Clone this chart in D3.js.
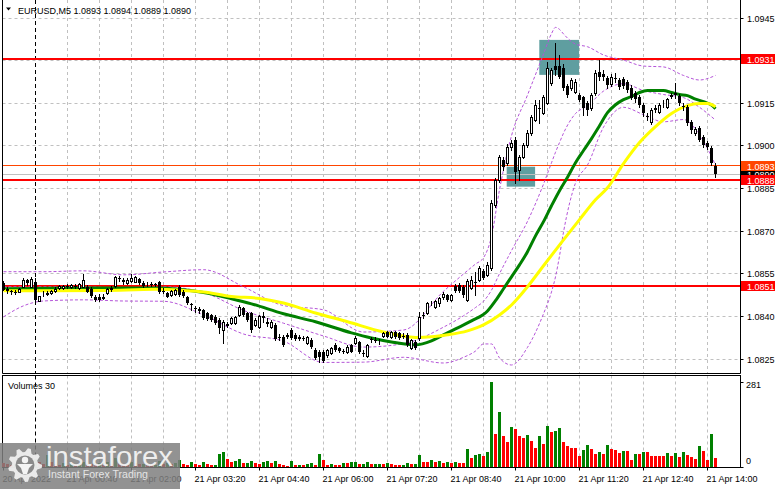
<!DOCTYPE html>
<html>
<head>
<meta charset="utf-8">
<title>EURUSD M5</title>
<script src="https://cdn.jsdelivr.net/npm/d3@7/dist/d3.min.js"></script>
<style>
  body { margin: 0; background: #ffffff; }
  svg { display: block; font-family: "Liberation Sans", Arial, sans-serif; }
</style>
</head>
<body>
<svg id="chart" width="781" height="489"></svg>
<script>
// ---- values ----
var symbol = "EURUSD";
var timeframe = "M5";

// one candle every 5 minutes, bar 0 = 20 Apr 23:20
var barOpen = [
  1.08518,1.08496,1.08489,1.08486,1.08487,1.08504,1.08528,1.08504,1.08521,1.08455,
  1.08479,1.08480,1.08482,1.08489,1.08500,1.08500,1.08507,1.08503,1.08509,1.08500,
  1.08505,1.08505,1.08496,1.08469,1.08468,1.08465,1.08482,1.08496,1.08507,1.08535,
  1.08528,1.08517,1.08524,1.08522,1.08531,1.08518,1.08514,1.08516,1.08514,1.08521,
  1.08489,1.08482,1.08476,1.08479,1.08503,1.08486,1.08468,1.08443,1.08429,1.08426,
  1.08422,1.08412,1.08405,1.08398,1.08387,1.08352,1.08373,1.08377,1.08377,1.08405,
  1.08429,1.08412,1.08412,1.08370,1.08362,1.08401,1.08380,1.08362,1.08370,1.08327,
  1.08327,1.08331,1.08352,1.08334,1.08327,1.08324,1.08306,1.08317,1.08282,1.08275,
  1.08275,1.08264,1.08271,1.08299,1.08289,1.08278,1.08275,1.08299,1.08306,1.08310,
  1.08271,1.08260,1.08320,1.08317,1.08310,1.08331,1.08345,1.08327,1.08345,1.08341,
  1.08331,1.08334,1.08289,1.08310,1.08324,1.08405,1.08412,1.08444,1.08433,1.08447,
  1.08468,1.08475,1.08458,1.08507,1.08510,1.08503,1.08458,1.08500,1.08521,1.08528,
  1.08560,1.08546,1.08570,1.08791,1.08879,1.08950,1.08940,1.08996,1.09021,1.08915,
  1.08961,1.09003,1.09045,1.09091,1.09133,1.09116,1.09151,1.09221,1.09281,1.09281,
  1.09274,1.09210,1.09204,1.09190,1.09179,1.09172,1.09151,1.09133,1.09186,1.09260,
  1.09253,1.09239,1.09218,1.09239,1.09232,1.09235,1.09225,1.09204,1.09186,1.09172,
  1.09144,1.09105,1.09084,1.09130,1.09119,1.09147,1.09137,1.09176,1.09183,1.09176,
  1.09140,1.09137,1.09084,1.09045,1.09063,1.09032,1.09010,1.08993,1.08930
];
var barHigh = [
  1.08524,1.08503,1.08493,1.08493,1.08500,1.08535,1.08531,1.08538,1.08535,1.08473,
  1.08489,1.08489,1.08493,1.08503,1.08510,1.08510,1.08514,1.08514,1.08514,1.08517,
  1.08549,1.08510,1.08503,1.08475,1.08479,1.08479,1.08500,1.08507,1.08542,1.08542,
  1.08535,1.08535,1.08551,1.08542,1.08535,1.08524,1.08521,1.08521,1.08517,1.08524,
  1.08500,1.08486,1.08493,1.08496,1.08510,1.08493,1.08472,1.08447,1.08436,1.08433,
  1.08426,1.08415,1.08408,1.08405,1.08394,1.08387,1.08380,1.08398,1.08401,1.08440,
  1.08433,1.08415,1.08415,1.08394,1.08405,1.08415,1.08394,1.08387,1.08377,1.08338,
  1.08334,1.08341,1.08359,1.08341,1.08334,1.08331,1.08331,1.08324,1.08289,1.08282,
  1.08282,1.08285,1.08292,1.08306,1.08292,1.08285,1.08299,1.08303,1.08331,1.08313,
  1.08282,1.08303,1.08327,1.08327,1.08320,1.08345,1.08348,1.08348,1.08348,1.08345,
  1.08341,1.08341,1.08320,1.08317,1.08415,1.08415,1.08451,1.08454,1.08458,1.08468,
  1.08486,1.08479,1.08479,1.08514,1.08517,1.08510,1.08531,1.08542,1.08556,1.08577,
  1.08567,1.08591,1.08809,1.08886,1.08968,1.08961,1.09007,1.09021,1.09032,1.08968,
  1.09010,1.09056,1.09109,1.09161,1.09161,1.09179,1.09295,1.09274,1.09362,1.09321,
  1.09288,1.09218,1.09239,1.09235,1.09186,1.09176,1.09158,1.09186,1.09267,1.09302,
  1.09267,1.09246,1.09253,1.09257,1.09239,1.09242,1.09232,1.09214,1.09193,1.09179,
  1.09151,1.09116,1.09133,1.09144,1.09151,1.09161,1.09168,1.09186,1.09221,1.09183,
  1.09151,1.09144,1.09091,1.09066,1.09070,1.09038,1.09017,1.09000,1.08940
];
var barLow = [
  1.08493,1.08482,1.08479,1.08479,1.08486,1.08503,1.08510,1.08503,1.08447,1.08454,
  1.08472,1.08475,1.08479,1.08486,1.08496,1.08498,1.08500,1.08500,1.08500,1.08498,
  1.08503,1.08486,1.08468,1.08454,1.08454,1.08461,1.08479,1.08489,1.08503,1.08524,
  1.08514,1.08514,1.08521,1.08521,1.08514,1.08503,1.08507,1.08507,1.08507,1.08482,
  1.08482,1.08468,1.08472,1.08475,1.08472,1.08468,1.08443,1.08422,1.08415,1.08412,
  1.08391,1.08387,1.08384,1.08373,1.08341,1.08307,1.08362,1.08373,1.08373,1.08401,
  1.08401,1.08384,1.08345,1.08366,1.08359,1.08380,1.08366,1.08359,1.08317,1.08317,
  1.08296,1.08324,1.08320,1.08317,1.08317,1.08317,1.08303,1.08289,1.08250,1.08240,
  1.08240,1.08257,1.08268,1.08278,1.08275,1.08271,1.08271,1.08275,1.08303,1.08271,
  1.08260,1.08257,1.08310,1.08310,1.08303,1.08327,1.08327,1.08324,1.08324,1.08320,
  1.08324,1.08296,1.08285,1.08285,1.08317,1.08394,1.08408,1.08440,1.08429,1.08436,
  1.08461,1.08454,1.08454,1.08486,1.08486,1.08468,1.08454,1.08496,1.08475,1.08524,
  1.08531,1.08542,1.08563,1.08784,1.08872,1.08914,1.08933,1.08985,1.08870,1.08880,
  1.08958,1.08996,1.09038,1.09088,1.09081,1.09112,1.09147,1.09214,1.09249,1.09239,
  1.09197,1.09172,1.09197,1.09186,1.09158,1.09109,1.09109,1.09126,1.09179,1.09232,
  1.09232,1.09204,1.09210,1.09225,1.09201,1.09204,1.09190,1.09165,1.09154,1.09137,
  1.09105,1.09091,1.09077,1.09119,1.09116,1.09137,1.09133,1.09168,1.09168,1.09144,
  1.09126,1.09074,1.09045,1.09038,1.09017,1.08996,1.08989,1.08933,1.08890
];
var barClose = [
  1.08495,1.08489,1.08486,1.08484,1.08498,1.08528,1.08517,1.08534,1.08458,1.08472,
  1.08480,1.08482,1.08489,1.08496,1.08507,1.08509,1.08505,1.08510,1.08507,1.08516,
  1.08528,1.08487,1.08472,1.08458,1.08458,1.08468,1.08496,1.08500,1.08540,1.08531,
  1.08521,1.08528,1.08535,1.08540,1.08517,1.08507,1.08516,1.08514,1.08512,1.08487,
  1.08487,1.08470,1.08490,1.08493,1.08475,1.08472,1.08447,1.08440,1.08426,1.08419,
  1.08394,1.08391,1.08387,1.08377,1.08359,1.08380,1.08366,1.08394,1.08398,1.08433,
  1.08405,1.08387,1.08352,1.08387,1.08401,1.08394,1.08373,1.08380,1.08320,1.08325,
  1.08299,1.08334,1.08324,1.08320,1.08320,1.08322,1.08327,1.08292,1.08254,1.08257,
  1.08243,1.08282,1.08289,1.08282,1.08278,1.08275,1.08292,1.08276,1.08324,1.08275,
  1.08269,1.08299,1.08319,1.08315,1.08310,1.08341,1.08329,1.08345,1.08327,1.08324,
  1.08329,1.08299,1.08317,1.08289,1.08398,1.08401,1.08447,1.08446,1.08454,1.08465,
  1.08479,1.08458,1.08475,1.08489,1.08489,1.08475,1.08524,1.08528,1.08519,1.08570,
  1.08535,1.08581,1.08798,1.08879,1.08961,1.08925,1.08996,1.09010,1.08908,1.08961,
  1.09003,1.09045,1.09102,1.09144,1.09131,1.09172,1.09274,1.09267,1.09267,1.09242,
  1.09204,1.09179,1.09232,1.09225,1.09161,1.09133,1.09126,1.09179,1.09257,1.09242,
  1.09242,1.09214,1.09242,1.09237,1.09207,1.09210,1.09197,1.09168,1.09165,1.09144,
  1.09116,1.09102,1.09126,1.09133,1.09144,1.09149,1.09165,1.09178,1.09186,1.09151,
  1.09137,1.09081,1.09056,1.09059,1.09021,1.09003,1.08996,1.08940,1.08900
];
var barVolume = [
  14,9,7,10,8,18,12,20,26,15, 11,40,16,9,8,12,7,10,6,9,
  18,14,11,9,12,8,15,10,30,12, 9,8,17,13,9,11,7,6,8,19,
  10,14,9,12,23,10,8,16,10,8, 16,10,5,8,43,50,26,18,21,26,
  12,14,21,14,11,16,20,12,21,11, 8,4,19,5,8,5,9,14,5,43,
  23,8,9,8,8,14,12,15,16,10, 11,15,9,10,11,10,12,10,8,5,
  8,14,9,11,40,17,15,24,17,21, 12,17,13,17,13,13,60,30,40,44,
  37,50,281,109,181,103,84,132,126,104, 96,106,86,63,103,77,136,116,119,129,
  83,70,63,63,37,57,72,61,44,50, 44,72,59,57,46,54,54,22,44,44,
  50,50,37,37,37,37,46,37,46,33, 50,39,33,28,70,52,24,109,30
];

// moving averages, sampled at bar indices
var smaFastBars = [0,12,25,38,44,50,57,62,70,78,87,92,97,103,107,110,113,117,121,123,
  125,127,129,131,133,135,137,139,141,143,145,147,149,151,153,155,157,159,161,163,
  165,167,169,171,173,175,177,178];
var smaFastValues = [1.08498,1.08500,1.08501,1.08501,1.08496,1.08485,1.08463,1.08445,1.08410,1.08382,
  1.08343,1.08325,1.08311,1.08301,1.08315,1.08336,1.08357,1.08385,1.08420,1.08456,
  1.08498,1.08540,1.08582,1.08628,1.08684,1.08734,1.08790,1.08843,1.08890,1.08941,
  1.08984,1.09026,1.09071,1.09117,1.09145,1.09163,1.09174,1.09188,1.09195,1.09195,
  1.09195,1.09188,1.09181,1.09177,1.09165,1.09156,1.09144,1.09131];
var smaSlowBars = [0,12,25,38,45,50,57,64,70,78,86,95,99,103,107,111,116,120,124,127,
  131,135,140,144,148,151,155,159,163,167,171,174,176,178];
var smaSlowValues = [1.08491,1.08491,1.08492,1.08496,1.08492,1.08487,1.08471,1.08464,1.08448,1.08413,
  1.08382,1.08346,1.08334,1.08327,1.08329,1.08336,1.08350,1.08371,1.08406,1.08441,
  1.08505,1.08579,1.08670,1.08741,1.08811,1.08853,1.08938,1.09012,1.09068,1.09114,
  1.09142,1.09149,1.09149,1.09138];

// bollinger bands, sampled at bar indices
var bandBars = [0,5,10,20,30,40,50,60,70,80,90,100,110,115,118,120,122,124,127,131,
  135,137,138,139,140,143,146,150,155,160,165,170,174,178];
var bandUpper = [1.08558,1.08558,1.08558,1.08561,1.08547,1.08557,1.08565,1.08505,1.08439,1.08424,
  1.08346,1.08353,1.08489,1.08550,1.08585,1.08607,1.08682,1.08846,1.09036,1.09179,
  1.09323,1.09395,1.09417,1.09410,1.09394,1.09358,1.09349,1.09320,1.09302,1.09281,
  1.09278,1.09248,1.09232,1.09248];
var bandMiddle = [1.08505,1.08505,1.08505,1.08505,1.08501,1.08505,1.08485,1.08422,1.08377,1.08332,
  1.08293,1.08305,1.08363,1.08403,1.08432,1.08454,1.08493,1.08551,1.08632,1.08735,
  1.08866,1.08941,1.08978,1.09012,1.09045,1.09114,1.09141,1.09193,1.09219,1.09195,
  1.09181,1.09170,1.09136,1.09091];
var bandLower = [1.08399,1.08438,1.08455,1.08459,1.08455,1.08454,1.08406,1.08339,1.08314,1.08239,
  1.08240,1.08257,1.08237,1.08257,1.08279,1.08304,1.08304,1.08255,1.08230,1.08292,
  1.08410,1.08487,1.08540,1.08613,1.08697,1.08870,1.08933,1.09066,1.09136,1.09110,
  1.09085,1.09093,1.09039,1.08933];

// axes
var priceTicks = [1.0945,1.0930,1.0915,1.0900,1.0885,1.0870,1.0855,1.0840,1.0825];
var timeTickBars = [0,16,32,48,64,80,96,112,128,144,160,176];
var timeLabels = ["20 Apr 2022","21 Apr 00:40","21 Apr 02:00","21 Apr 03:20","21 Apr 04:40",
  "21 Apr 06:00","21 Apr 07:20","21 Apr 08:40","21 Apr 10:00","21 Apr 11:20",
  "21 Apr 12:40","21 Apr 14:00"];
var daySeparatorBar = 8;
var volumeMax = 281;

// drawn objects
var levelLines = [1.09305, 1.0888, 1.08506];
var askPrice = 1.0893;
var bidPrice = 1.0890;
var zoneBars = [[133.95, 143.9], [125.8, 132.9]];
var zonePrices = [[1.09373, 1.09250], [1.08927, 1.08857]];

// ---- drawing ----
var svg = d3.select("#chart");

var frame = {left:2.5, right:740.5, bottom:373.5, volTop:375.5, volBottom:467.5};

var xScale = d3.scaleLinear().domain([0, 178]).range([3.5, 715.5]);
var yScale = d3.scaleLinear().domain([1.0825, 1.0945]).range([359.3, 18]);
var vScale = d3.scaleLinear().domain([0, volumeMax]).range([467, 382]);

var crisp = function(v) { return Math.round(v - 0.5) + 0.5; };

var grid = "#c0c0c0";
var upColor = "#008000";
var downColor = "#ff0000";

svg.append("rect").attr("width", 781).attr("height", 489).attr("fill", "#ffffff");

svg.append("defs").append("clipPath").attr("id", "mainClip")
  .append("rect")
  .attr("x", frame.left).attr("y", 0)
  .attr("width", frame.right - frame.left).attr("height", frame.bottom);

// horizontal grid
svg.append("g").selectAll("line")
  .data(priceTicks)
  .enter().append("line")
  .attr("x1", frame.left).attr("x2", frame.right)
  .attr("y1", function(p) { return crisp(yScale(p)); })
  .attr("y2", function(p) { return crisp(yScale(p)); })
  .attr("stroke", grid)
  .attr("stroke-dasharray", "3,3");

// vertical grid every 40 minutes, both panels
var gridBars = d3.range(daySeparatorBar + 8, 178, 8);
var vgrid = svg.append("g");
gridBars.forEach(function(b) {
  vgrid.append("line")
    .attr("x1", xScale(b)).attr("x2", xScale(b))
    .attr("y1", 0).attr("y2", frame.bottom)
    .attr("stroke", grid).attr("stroke-dasharray", "3,3");
  vgrid.append("line")
    .attr("x1", xScale(b)).attr("x2", xScale(b))
    .attr("y1", frame.volTop).attr("y2", frame.volBottom)
    .attr("stroke", grid).attr("stroke-dasharray", "3,3");
});

// day separator
[[0, frame.bottom], [frame.volTop, frame.volBottom]].forEach(function(span) {
  svg.append("line")
    .attr("x1", xScale(daySeparatorBar)).attr("x2", xScale(daySeparatorBar))
    .attr("y1", span[0]).attr("y2", span[1])
    .attr("stroke", "#000").attr("stroke-dasharray", "4,3");
});

var main = svg.append("g").attr("clip-path", "url(#mainClip)");

// teal zones
main.append("g").selectAll("rect")
  .data(d3.range(zoneBars.length))
  .enter().append("rect")
  .attr("x", function(i) { return xScale(zoneBars[i][0]); })
  .attr("width", function(i) { return xScale(zoneBars[i][1]) - xScale(zoneBars[i][0]); })
  .attr("y", function(i) { return yScale(zonePrices[i][0]); })
  .attr("height", function(i) { return yScale(zonePrices[i][1]) - yScale(zonePrices[i][0]); })
  .attr("fill", "#5f9ea0");

// bid / ask lines
main.append("line")
  .attr("x1", frame.left).attr("x2", frame.right)
  .attr("y1", crisp(yScale(bidPrice))).attr("y2", crisp(yScale(bidPrice)))
  .attr("stroke", "#c0c0c0");
main.append("line")
  .attr("x1", frame.left).attr("x2", frame.right)
  .attr("y1", crisp(yScale(askPrice))).attr("y2", crisp(yScale(askPrice)))
  .attr("stroke", "#ff4500");

// red levels
main.append("g").selectAll("line")
  .data(levelLines)
  .enter().append("line")
  .attr("x1", frame.left).attr("x2", frame.right)
  .attr("y1", function(p) { return Math.round(yScale(p)); })
  .attr("y2", function(p) { return Math.round(yScale(p)); })
  .attr("stroke", "#ff0000").attr("stroke-width", 2);

// bollinger bands
var sampled = function(bars, values) {
  return bars.map(function(b, i) { return [b, values[i]]; });
};
var curve = d3.line()
  .x(function(d) { return xScale(d[0]); })
  .y(function(d) { return yScale(d[1]); })
  .curve(d3.curveMonotoneX);

[bandUpper, bandMiddle, bandLower].forEach(function(band) {
  main.append("path")
    .attr("d", curve(sampled(bandBars, band)))
    .attr("fill", "none")
    .attr("stroke", "#b455d8")
    .attr("stroke-width", 1)
    .attr("stroke-dasharray", "3,2");
});

// moving averages
main.append("path")
  .attr("d", curve(sampled(smaFastBars, smaFastValues)))
  .attr("fill", "none").attr("stroke", "#008000").attr("stroke-width", 3);
main.append("path")
  .attr("d", curve(sampled(smaSlowBars, smaSlowValues)))
  .attr("fill", "none").attr("stroke", "#ffff00").attr("stroke-width", 3);

// candles
var candles = main.append("g").selectAll("g")
  .data(d3.range(barClose.length))
  .enter().append("g");

candles.append("line")
  .attr("x1", function(i) { return xScale(i); })
  .attr("x2", function(i) { return xScale(i); })
  .attr("y1", function(i) { return Math.round(yScale(barHigh[i])); })
  .attr("y2", function(i) { return Math.round(yScale(barLow[i])) + 1; })
  .attr("stroke", "#000");

candles.append("rect")
  .each(function(i) {
    var up = barClose[i] >= barOpen[i];
    var top = Math.round(yScale(Math.max(barOpen[i], barClose[i])));
    var bot = Math.round(yScale(Math.min(barOpen[i], barClose[i])));
    var r = d3.select(this);
    if (up) {
      r.attr("x", xScale(i) - 1).attr("width", 2)
       .attr("y", top + 0.5).attr("height", Math.max(bot - top, 0))
       .attr("fill", "#ffffff").attr("stroke", "#000");
    } else {
      r.attr("x", xScale(i) - 1.5).attr("width", 3)
       .attr("y", top).attr("height", Math.max(bot - top, 1))
       .attr("fill", "#000");
    }
  });

// frame lines
svg.append("path")
  .attr("d", "M" + frame.left + ",0V" + frame.bottom + "H" + frame.right + "V0")
  .attr("fill", "none").attr("stroke", "#000");
svg.append("rect")
  .attr("x", frame.left).attr("y", frame.volTop)
  .attr("width", frame.right - frame.left).attr("height", frame.volBottom - frame.volTop)
  .attr("fill", "none").attr("stroke", "#000");

// price axis
var axisText = svg.append("g").attr("font-size", "9px").attr("fill", "#000");
priceTicks.forEach(function(p) {
  var y = crisp(yScale(p));
  svg.append("line").attr("x1", frame.right).attr("x2", frame.right + 3)
    .attr("y1", y).attr("y2", y).attr("stroke", "#000");
  axisText.append("text").attr("x", 747).attr("y", y + 3.5).text(p.toFixed(4));
});

// price boxes
var priceBox = function(p, color) {
  var y = yScale(p);
  svg.append("rect").attr("x", 741).attr("y", Math.round(y) - 5)
    .attr("width", 34).attr("height", 10).attr("fill", color);
  svg.append("text").attr("x", 747).attr("y", Math.round(y) + 3.5)
    .attr("font-size", "9px").attr("fill", "#ffffff").text(p.toFixed(4));
};
priceBox(bidPrice, "#000000");
priceBox(askPrice, "#ff4500");
levelLines.forEach(function(p) { priceBox(p, "#ff0000"); });

// header
svg.append("path").attr("d", "M6,7.5L11,7.5L8.5,10.5Z").attr("fill", "#000");
svg.append("text").attr("x", 18).attr("y", 14).attr("font-size", "9px")
  .text(symbol + "," + timeframe + "  " +
    [barOpen, barHigh, barLow, barClose].map(function(a) {
      return a[a.length - 1].toFixed(4);
    }).join(" "));

// volumes
svg.append("g").selectAll("rect")
  .data(d3.range(barVolume.length))
  .enter().append("rect")
  .attr("x", function(i) { return xScale(i) - 1.5; })
  .attr("width", 3)
  .attr("y", function(i) { return Math.round(vScale(barVolume[i])); })
  .attr("height", function(i) { return 467 - Math.round(vScale(barVolume[i])); })
  .attr("fill", function(i) {
    return i > 0 && barVolume[i] > barVolume[i - 1] ? upColor : downColor;
  });

svg.append("text").attr("x", 8).attr("y", 389).attr("font-size", "9px")
  .text("Volumes " + barVolume[barVolume.length - 1]);

[volumeMax, 0].forEach(function(v) {
  var y = crisp(vScale(v));
  svg.append("line").attr("x1", frame.right).attr("x2", frame.right + 3)
    .attr("y1", y).attr("y2", y).attr("stroke", "#000");
  axisText.append("text").attr("x", 746).attr("y", v === 0 ? 464 : 387.5).text(v);
});

// time axis
timeTickBars.forEach(function(b, i) {
  svg.append("line").attr("x1", xScale(b)).attr("x2", xScale(b))
    .attr("y1", frame.volBottom).attr("y2", frame.volBottom + 3).attr("stroke", "#000");
  axisText.append("text").attr("x", xScale(b) - 1).attr("y", 481.5).text(timeLabels[i]);
});

// instaforex watermark
var wm = svg.append("g");
wm.append("rect").attr("x", 0).attr("y", 443).attr("width", 180).attr("height", 46)
  .attr("fill", "#7f7f7f").attr("opacity", 0.85);

var gearPath = function(cx, cy, rIn, rOut, teeth) {
  var pts = [];
  for (var k = 0; k < teeth * 4; k++) {
    var a = (k / (teeth * 4)) * 2 * Math.PI;
    var r = (k % 4 < 2) ? rOut : rIn;
    pts.push([cx + r * Math.cos(a), cy + r * Math.sin(a)]);
  }
  return "M" + pts.join("L") + "Z";
};
wm.append("path").attr("d", gearPath(25, 465, 13, 17, 9)).attr("fill", "#f4f4f4").attr("opacity", 0.9);
wm.append("circle").attr("cx", 25).attr("cy", 465).attr("r", 9.5).attr("fill", "#8a8a8a");
wm.append("circle").attr("cx", 25).attr("cy", 460).attr("r", 3.2).attr("fill", "#f4f4f4");
wm.append("path").attr("d", "M17,464L33,464L29,468L27,474L23,474L21,468Z").attr("fill", "#f4f4f4");

wm.append("text").attr("x", 46).attr("y", 466)
  .attr("font-size", "28px").attr("fill", "#f6f6f6").attr("opacity", 0.92)
  .attr("textLength", 127).attr("lengthAdjust", "spacingAndGlyphs")
  .text("instaforex");
wm.append("text").attr("x", 48).attr("y", 477.5)
  .attr("font-size", "11px").attr("fill", "#eeeeee").attr("opacity", 0.9)
  .attr("textLength", 100).attr("lengthAdjust", "spacingAndGlyphs")
  .text("Instant Forex Trading");
</script>
</body>
</html>
